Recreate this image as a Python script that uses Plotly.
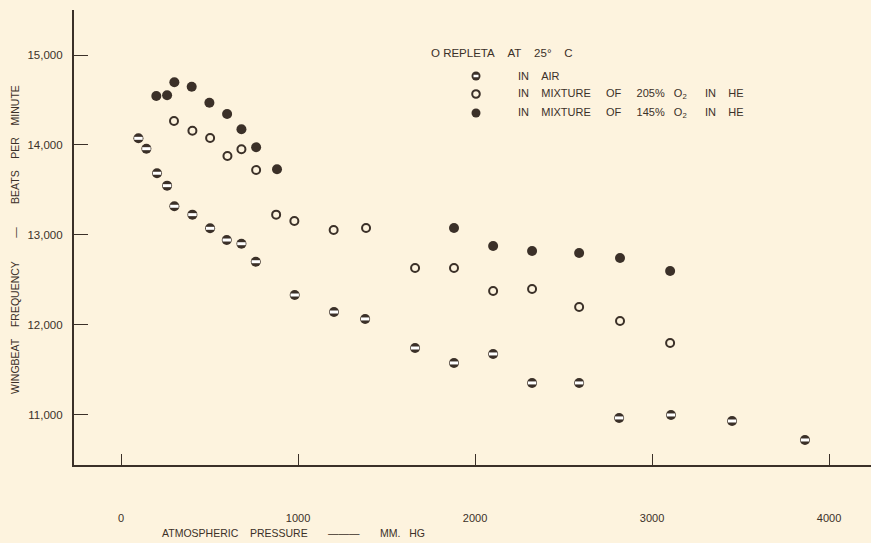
import plotly.graph_objects as go

# ---- data ----
air_x = [98, 143, 203, 260, 301, 403, 503, 597, 680, 761, 981, 1203, 1379, 1661, 1881, 2102, 2322, 2588, 2814, 3107, 3452, 3864]
air_y = [14074, 13959, 13686, 13548, 13319, 13226, 13074, 12944, 12903, 12703, 12333, 12144, 12067, 11744, 11578, 11678, 11356, 11356, 10967, 11000, 10933, 10722]

mix205_x = [299, 403, 503, 601, 680, 763, 876, 979, 1201, 1384, 1661, 1881, 2102, 2322, 2588, 2819, 3102]
mix205_y = [14267, 14159, 14078, 13878, 13952, 13722, 13226, 13156, 13056, 13078, 12633, 12633, 12378, 12400, 12200, 12044, 11800]

mix145_x = [199, 260, 301, 399, 499, 599, 680, 763, 881, 1881, 2102, 2322, 2588, 2819, 3102]
mix145_y = [14544, 14552, 14697, 14648, 14470, 14344, 14174, 13974, 13730, 13078, 12878, 12822, 12800, 12744, 12600]

x_ticks = [0, 1000, 2000, 3000, 4000]
x_tick_labels = ["0", "1000", "2000", "3000", "4000"]
y_ticks = [11000, 12000, 13000, 14000, 15000]
y_tick_labels = ["11,000", "12,000", "13,000", "14,000", "15,000"]

S = "\u00a0"
legend_title = "O" + S + "REPLETA" + S * 4 + "AT" + S * 4 + "25°" + S * 4 + "C"
legend_labels = [
    "IN" + S * 4 + "AIR",
    "IN" + S * 4 + "MIXTURE" + S * 5 + "OF" + S * 5 + "205%" + S * 3 + "O<sub>2</sub>" + S * 6 + "IN" + S * 4 + "HE",
    "IN" + S * 4 + "MIXTURE" + S * 5 + "OF" + S * 5 + "145%" + S * 3 + "O<sub>2</sub>" + S * 6 + "IN" + S * 4 + "HE",
]
x_title = "ATMOSPHERIC" + S * 4 + "PRESSURE" + S * 7 + "———" + S * 7 + "MM." + S * 3 + "HG"
y_title = ("WINGBEAT" + S * 4 + "FREQUENCY" + S * 8 + "—" + S * 8 + "BEATS" + S * 4 + "PER" + S * 4 + "MINUTE")

# ---- style ----
BG = "#FDF3DE"
INK = "#3B3028"
FONT = "Liberation Sans"

# plot-area pixel frame
PL, PR, PT, PB = 74, 871, 10, 465


def px_to_paper_x(px):
    return (px - PL) / (PR - PL)


def px_to_paper_y(py):
    return (PB - py) / (PB - PT)


fig = go.Figure()

# air: half-filled (dark disc with light band)
fig.add_trace(go.Scatter(x=air_x, y=air_y, mode="markers",
                         marker=dict(symbol="circle", size=10, color=INK, line=dict(width=0)),
                         showlegend=False, hoverinfo="skip"))
fig.add_trace(go.Scatter(x=air_x, y=air_y, mode="markers",
                         marker=dict(symbol="line-ew", size=6, color=BG, line=dict(width=3, color="#FFFFFF")),
                         showlegend=False, hoverinfo="skip"))
# 20.5% O2: open circles
fig.add_trace(go.Scatter(x=mix205_x, y=mix205_y, mode="markers",
                         marker=dict(symbol="circle-open", size=8, color=INK, line=dict(width=2, color=INK)),
                         showlegend=False))
# 14.5% O2: filled circles
fig.add_trace(go.Scatter(x=mix145_x, y=mix145_y, mode="markers",
                         marker=dict(symbol="circle", size=10, color=INK, line=dict(width=0)),
                         showlegend=False))

shapes = []
annotations = []

annotations.append(dict(x=px_to_paper_x(429), y=px_to_paper_y(53), xref="paper", yref="paper",
                        text=legend_title, showarrow=False, xanchor="left", yanchor="middle",
                        font=dict(family=FONT, size=11.5, color=INK)))

leg_y = [76, 94, 113]
for lbl, yy in zip(legend_labels, leg_y):
    annotations.append(dict(x=px_to_paper_x(516), y=px_to_paper_y(yy), xref="paper", yref="paper",
                            text=lbl, showarrow=False, xanchor="left", yanchor="middle",
                            font=dict(family=FONT, size=11, color=INK)))

mx = 476
for i, yy in enumerate(leg_y):
    x0, x1 = px_to_paper_x(mx - 4.5), px_to_paper_x(mx + 4.5)
    y0, y1 = px_to_paper_y(yy + 4.5), px_to_paper_y(yy - 4.5)
    if i == 0:
        shapes.append(dict(type="circle", xref="paper", yref="paper", x0=x0, x1=x1, y0=y0, y1=y1,
                           fillcolor=INK, line=dict(width=0)))
        shapes.append(dict(type="line", xref="paper", yref="paper",
                           x0=px_to_paper_x(mx - 2.5), x1=px_to_paper_x(mx + 2.5),
                           y0=px_to_paper_y(yy), y1=px_to_paper_y(yy),
                           line=dict(width=2.5, color="#FFFFFF")))
    elif i == 1:
        shapes.append(dict(type="circle", xref="paper", yref="paper",
                           x0=px_to_paper_x(mx - 3.8), x1=px_to_paper_x(mx + 3.8),
                           y0=px_to_paper_y(yy + 3.8), y1=px_to_paper_y(yy - 3.8),
                           fillcolor="rgba(0,0,0,0)", line=dict(width=2, color=INK)))
    else:
        shapes.append(dict(type="circle", xref="paper", yref="paper", x0=x0, x1=x1, y0=y0, y1=y1,
                           fillcolor=INK, line=dict(width=0)))

# axis titles
annotations.append(dict(x=px_to_paper_x(160), y=px_to_paper_y(533), xref="paper", yref="paper",
                        text=x_title, showarrow=False, xanchor="left", yanchor="middle",
                        font=dict(family=FONT, size=10.5, color=INK)))
annotations.append(dict(x=px_to_paper_x(15), y=px_to_paper_y(240), xref="paper", yref="paper",
                        text=y_title, showarrow=False, xanchor="center", yanchor="middle", textangle=-90,
                        font=dict(family=FONT, size=10.5, color=INK)))

fig.update_layout(
    width=871, height=543,
    margin=dict(l=PL, r=871 - PR, t=PT, b=543 - PB),
    paper_bgcolor=BG, plot_bgcolor=BG,
    shapes=shapes, annotations=annotations,
    showlegend=False,
    xaxis=dict(range=[-266, 4237], tickmode="array", tickvals=x_ticks, ticktext=x_tick_labels,
               ticks="inside", ticklen=11, tickwidth=1.2, tickcolor=INK,
               showline=True, linecolor=INK, linewidth=2.2, showgrid=False, zeroline=False,
               ticklabelstandoff=42,
               tickfont=dict(family=FONT, size=11, color=INK)),
    yaxis=dict(range=[10444, 15500], tickmode="array", tickvals=y_ticks, ticktext=y_tick_labels,
               ticks="inside", ticklen=14, tickwidth=1.2, tickcolor=INK,
               showline=True, linecolor=INK, linewidth=2.2, showgrid=False, zeroline=False,
               ticklabelstandoff=7,
               tickfont=dict(family=FONT, size=11.5, color=INK)),
)

fig.write_html("out.html", config={"displayModeBar": False},
               post_script="document.body.style.margin='0';document.body.style.background='" + BG + "';")
